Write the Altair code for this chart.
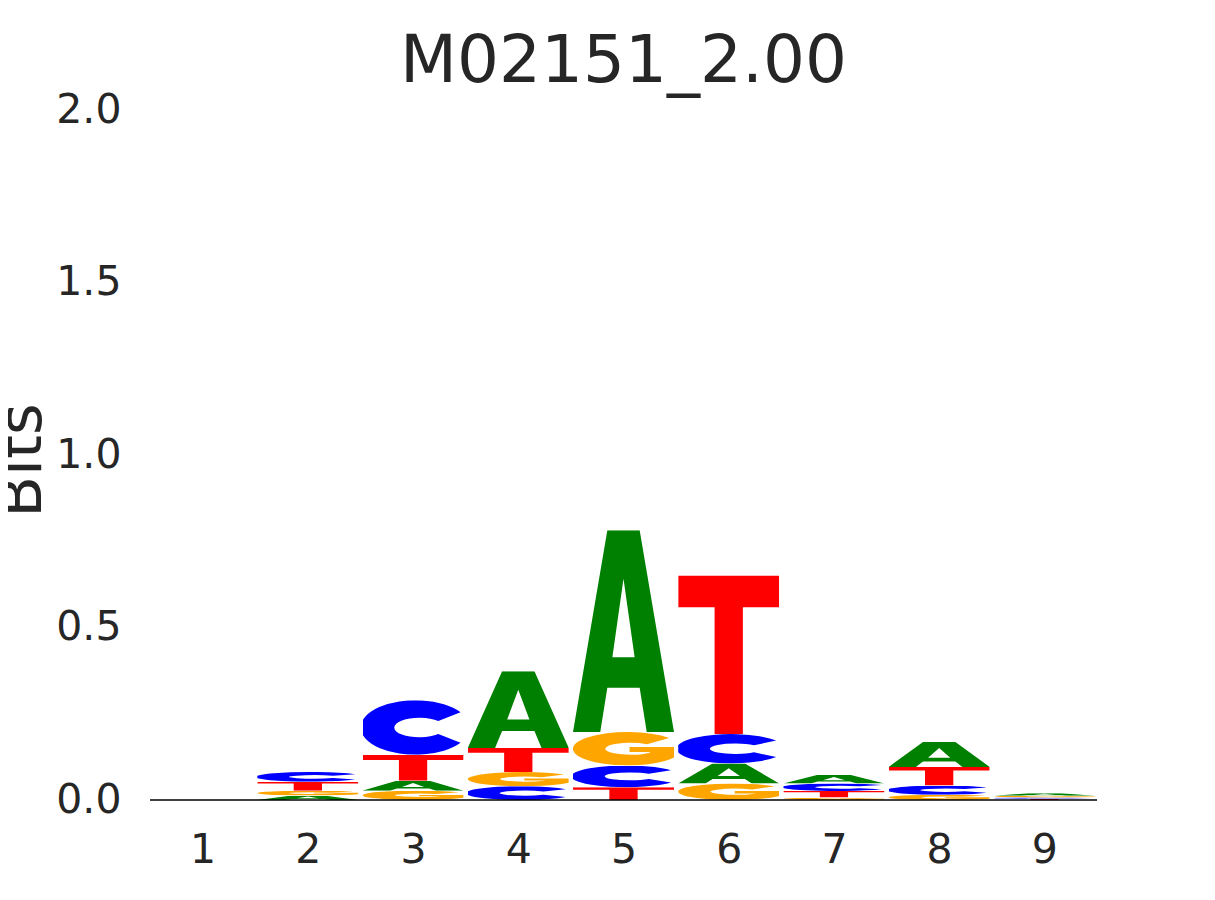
import base64
import altair as alt
import pandas as pd

# ---- data (bits per letter, per position) ----
positions = [1, 2, 3, 4, 5, 6, 7, 8, 9]
bits_A = [0.001, 0.013, 0.029, 0.222, 0.585, 0.058, 0.025, 0.072, 0.007]
bits_C = [0.001, 0.028, 0.158, 0.040, 0.063, 0.085, 0.022, 0.027, 0.004]
bits_G = [0.001, 0.014, 0.027, 0.041, 0.097, 0.048, 0.007, 0.015, 0.005]
bits_T = [0.001, 0.026, 0.075, 0.070, 0.037, 0.46, 0.019, 0.054, 0.0035]
y_ticks = [0.0, 0.5, 1.0, 1.5, 2.0]
title_text = "M02151_2.00"

letter_colors = {"A": "#008000", "C": "#0000FF", "G": "#FFA500", "T": "#FF0000"}

# glyph outlines in a 100x100 box (stretched to each letter's rectangle)
glyph_paths = {
    "A": "M0 100 L34 0 L66 0 L100 100 L73 100 L66 78 L34 78 L27 100 Z M50 24 L61 63 L39 63 Z",
    "C": "M97 22 A54 50 0 1 0 97 78 L75 62 A25 18 0 1 1 75 38 Z",
    "G": "M95.4 17.9 A54 50 0 1 0 100 76 L100 45 L56 45 L56 60 L76 60 L76 61.7 A25 18 0 1 1 73.1 36.2 Z",
    "T": "M0 0 L100 0 L100 20 L64 20 L64 100 L36 100 L36 20 L0 20 Z",
}


def glyph_url(letter):
    svg = (
        '<svg xmlns="http://www.w3.org/2000/svg" viewBox="0 0 100 100" '
        'preserveAspectRatio="none"><path d="%s" fill="%s" fill-rule="evenodd"/></svg>'
        % (glyph_paths[letter], letter_colors[letter])
    )
    return "data:image/svg+xml;base64," + base64.b64encode(svg.encode()).decode()


urls = {k: glyph_url(k) for k in "ACGT"}

rows = []
for i, p in enumerate(positions):
    vals = {"A": bits_A[i], "C": bits_C[i], "G": bits_G[i], "T": bits_T[i]}
    base = 0.0
    for letter, h in sorted(vals.items(), key=lambda kv: kv[1]):
        rows.append({
            "pos": p, "letter": letter, "bits": h,
            "y0": base, "y1": base + h,
            "url": urls[letter],
        })
        base += h
df = pd.DataFrame(rows)

W, H = 947, 690
FONT = "DejaVu Sans"
TXT = "#262626"

letters = alt.Chart(df).transform_calculate(
    x0="datum.pos - 0.48", x1="datum.pos + 0.48"
).mark_image(aspect=False).encode(
    x=alt.X("x0:Q", scale=alt.Scale(domain=[0.5, 9.5], nice=False, zero=False),
            axis=alt.Axis(values=positions, title=None, labelFontSize=41, labelFont=FONT,
                          labelColor=TXT, labelPadding=30, ticks=False, tickSize=0,
                          domain=False, grid=False, labelAngle=0, format="d")),
    x2="x1:Q",
    y=alt.Y("y0:Q", scale=alt.Scale(domain=[0, 2], nice=False),
            axis=alt.Axis(values=y_ticks, format=".1f", title="Bits", labelFontSize=41,
                          labelFont=FONT, labelColor=TXT, labelPadding=29, ticks=False,
                          tickSize=0, domain=False, grid=False,
                          titleFontSize=61, titleFont=FONT, titleColor=TXT,
                          titleFontWeight="normal", titleAngle=270,
                          titleBaseline="alphabetic", titleAlign="center",
                          titleX=-110, titleY=350)),
    y2="y1:Q",
    url="url:N",
)

baseline = alt.Chart(pd.DataFrame({"zero": [0.0]})).mark_rule(
    color="black", strokeWidth=1.5
).encode(
    y=alt.Y("zero:Q"),
    x=alt.value(0),
    x2=alt.value(W),
)

chart = alt.layer(letters, baseline).properties(
    width=W, height=H,
    title=alt.TitleParams(title_text, fontSize=66, font=FONT, fontWeight="normal",
                          color=TXT, frame="group", anchor="middle",
                          baseline="alphabetic", offset=28, dy=87),
    autosize=alt.AutoSizeParams(type="none"),
    padding={"left": 142, "top": 102, "right": 100, "bottom": 80},
).configure_view(stroke=None)

chart.save("out.html", embed_options={"renderer": "svg", "actions": False})
